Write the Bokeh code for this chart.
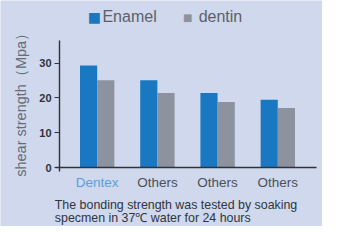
from bokeh.plotting import figure
from bokeh.models import ColumnDataSource, Label, LabelSet, Range1d, FixedTicker
from bokeh.core.properties import field, value
from bokeh.embed import file_html
from bokeh.resources import INLINE

categories = ["Dentex", "Others", "Others", "Others"]
enamel = [29.3, 25.1, 21.4, 19.5]
dentin = [25.1, 21.4, 18.8, 17.1]
y_ticks = [0, 10, 20, 30]

BG = "#cfd8ec"
BLUE = "#1a78c2"
GRAY = "#8c939f"
FONT = "Liberation Sans"

W, H = 322, 226
SX, SY = W / 338.0, H / 242.0

# reference layout (reference pixels): group spacing, first group centre, zero line
STEP, X0, Y0, PPU = 63.2, 101.5, 179.0, 3.733

def dx(xr):
    return (xr - X0) / STEP

def dy(yr):
    return (Y0 - yr) / PPU

xs = list(range(len(categories)))
src = ColumnDataSource(dict(
    x=xs,
    xe=[x - 0.143 for x in xs],
    xd=[x + 0.143 for x in xs],
    enamel=enamel,
    dentin=dentin,
    cat=categories,
    col=["#5b9fdc"] + ["#4c5159"] * (len(categories) - 1),
))

p = figure(width=W, height=H, output_backend="svg", toolbar_location=None,
           x_range=Range1d(dx(0), dx(W / SX)),
           y_range=Range1d(dy(H / SY), dy(0)),
           min_border=0, min_border_left=0, min_border_right=0,
           min_border_top=0, min_border_bottom=0)
p.background_fill_color = BG
p.border_fill_color = BG
p.outline_line_color = None
p.grid.visible = False

p.vbar(x="xe", top="enamel", width=0.285, source=src, color=BLUE, line_color=None)
p.vbar(x="xd", top="dentin", width=0.285, source=src, color=GRAY, line_color=None)

yax = p.yaxis[0]
yax.fixed_location = dx(62)
yax.bounds = (-1.0, dy(43))
yax.ticker = FixedTicker(ticks=y_ticks)
yax.axis_line_color = "#2f3338"
yax.axis_line_width = 1.4
yax.major_tick_line_color = "#2f3338"
yax.major_tick_line_width = 1.2
yax.major_tick_in = 0
yax.major_tick_out = 5
yax.minor_tick_line_color = None
yax.major_label_text_font = FONT
yax.major_label_text_font_size = "11px"
yax.major_label_text_font_style = "bold"
yax.major_label_text_color = "#2f3338"
yax.major_label_standoff = 3

xax = p.xaxis[0]
xax.fixed_location = 0
xax.bounds = (dx(58), dx(332))
xax.axis_line_color = "#2f3338"
xax.axis_line_width = 1.4
xax.major_tick_line_color = None
xax.minor_tick_line_color = None
xax.major_label_text_font_size = "0px"
xax.major_label_text_color = None

# category labels
p.add_layout(LabelSet(x="x", y=dy(194.5), text="cat", source=src,
                      text_color=field("col"), text_align="center", text_baseline="middle",
                      text_font_size=value("13.5px"), text_font=value(FONT)))

def lab(xr, yr, text, size, color, align="left", angle=0.0, font=FONT):
    p.add_layout(Label(x=dx(xr), y=dy(yr), text=text, angle=angle, angle_units="rad",
                       text_align=align, text_baseline="middle",
                       text_font=font, text_font_size=size, text_color=color))

# y axis title
lab(21, 108, "shear strength（Mpa）", "14.5px", "#666b74", align="center", angle=1.5708)

# legend
lab(98.5, 17.5, "■", "14px", BLUE, align="center", font="DejaVu Sans")
lab(107, 17.5, "Enamel", "16px", "#5c6169")
lab(196.5, 18.5, "■", "10px", GRAY, align="center", font="DejaVu Sans")
lab(208, 17.5, "dentin", "16px", "#5c6169")

# caption
lab(57, 218.5, "The bonding strength was tested by soaking", "12.4px", "#30353d")
lab(57, 233, "specmen in 37℃ water for 24 hours", "12.4px", "#30353d")

open("out.html", "w").write(file_html(p, INLINE))
